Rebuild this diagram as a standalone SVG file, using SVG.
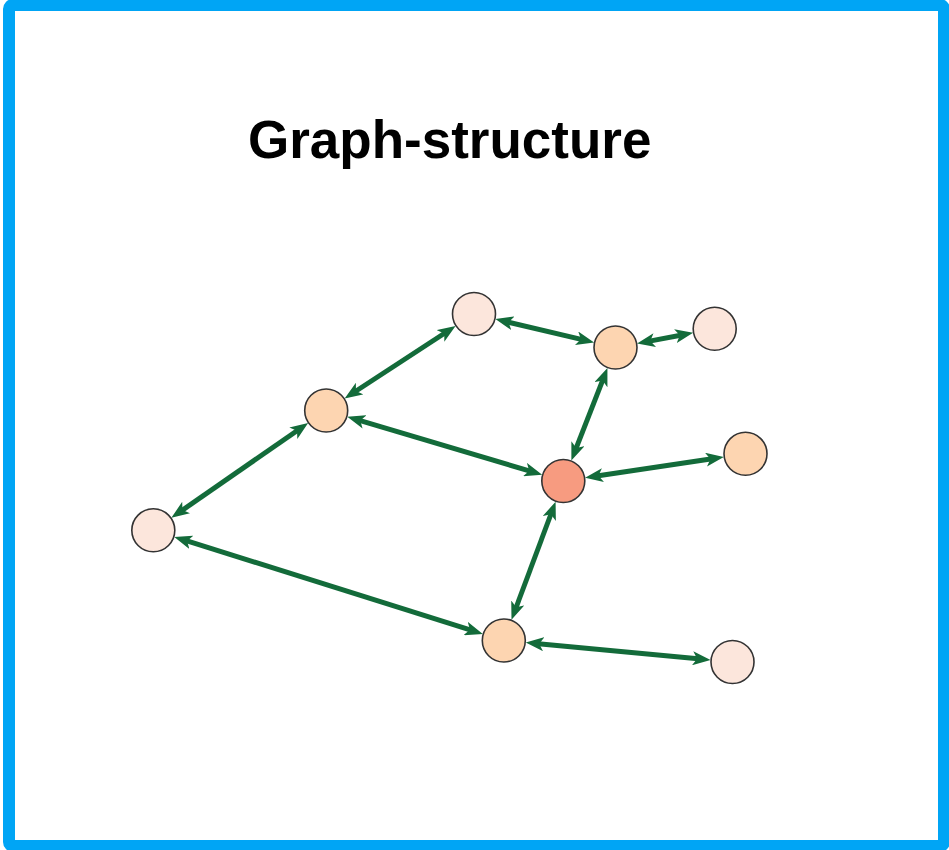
<svg xmlns="http://www.w3.org/2000/svg" width="949" height="850" viewBox="0 0 949 850">
  <defs>
    <marker id="arr" viewBox="0 0 18 14" markerWidth="18" markerHeight="14" refX="8" refY="7" orient="auto-start-reverse" markerUnits="userSpaceOnUse">
      <path d="M0,0 L18,7 L0,14 L4.5,7 z" fill="#136b3a"/>
    </marker>
  </defs>
  <style>
    .edge { stroke: #136b3a; stroke-width: 5; fill: none; marker-start: url(#arr); marker-end: url(#arr); }
    .node { stroke: #333333; stroke-width: 1.6; }
    .pale { fill: #fce6dc; }
    .peach { fill: #fdd5b1; }
    .hot { fill: #f79b80; }
    .title { font-family: "Liberation Sans", Arial, sans-serif; font-weight: bold; font-size: 53px; fill: #000000; }
  </style>
  <rect x="0" y="0" width="949" height="850" fill="#ffffff"/>
  <rect x="9" y="5" width="935" height="841" rx="4" fill="none" stroke="#00a5f5" stroke-width="12"/>
  <text class="title" x="248" y="158">Graph-structure</text>
  <g id="connectors">
    <line class="edge" x1="505.1" y1="321.4" x2="584.4" y2="340.1"/>
    <line class="edge" x1="646.9" y1="341.6" x2="683.3" y2="334.7"/>
    <line class="edge" x1="447.2" y1="331.5" x2="353.0" y2="393.0"/>
    <line class="edge" x1="603.8" y1="377.3" x2="575.0" y2="451.2"/>
    <line class="edge" x1="356.9" y1="419.6" x2="532.6" y2="471.9"/>
    <line class="edge" x1="595.0" y1="476.3" x2="713.9" y2="458.5"/>
    <line class="edge" x1="299.9" y1="428.7" x2="179.6" y2="512.1"/>
    <line class="edge" x1="183.8" y1="539.9" x2="473.3" y2="630.9"/>
    <line class="edge" x1="552.1" y1="511.0" x2="515.0" y2="610.5"/>
    <line class="edge" x1="535.7" y1="643.5" x2="700.6" y2="659.0"/>
  </g>
  <g id="node-a"><circle class="node pale" cx="474" cy="314" r="21.5"/></g>
  <g id="node-b"><circle class="node peach" cx="615.5" cy="347.5" r="21.5"/></g>
  <g id="node-c"><circle class="node pale" cx="714.7" cy="328.8" r="21.5"/></g>
  <g id="node-d"><circle class="node peach" cx="326.2" cy="410.5" r="21.5"/></g>
  <g id="node-e"><circle class="node hot" cx="563.3" cy="481" r="21.5"/></g>
  <g id="node-f"><circle class="node peach" cx="745.5" cy="453.8" r="21.5"/></g>
  <g id="node-g"><circle class="node pale" cx="153.3" cy="530.3" r="21.5"/></g>
  <g id="node-h"><circle class="node peach" cx="503.8" cy="640.5" r="21.5"/></g>
  <g id="node-i"><circle class="node pale" cx="732.5" cy="662" r="21.5"/></g>
</svg>
